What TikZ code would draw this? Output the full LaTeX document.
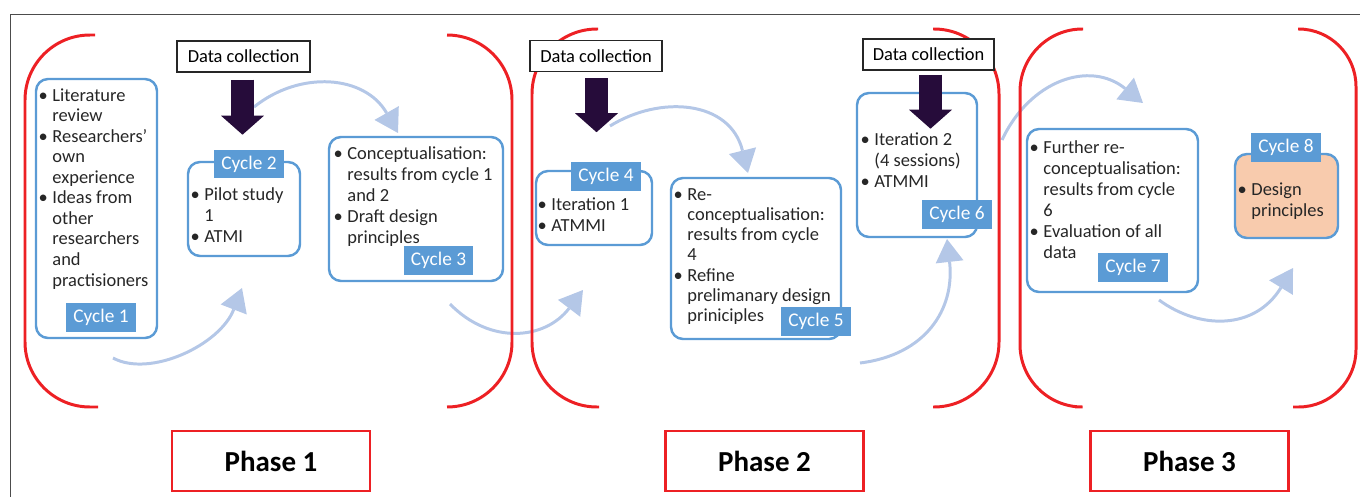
\documentclass[tikz,border=0pt]{standalone}
\usepackage{fontspec}
\setmainfont{Carlito}
\usetikzlibrary{arrows.meta,calc}
\definecolor{phasered}{HTML}{ED2024}
\definecolor{cycblue}{HTML}{5B9BD5}
\definecolor{flowblue}{HTML}{B4C7E7}
\definecolor{dcpurple}{HTML}{260C3A}
\definecolor{peach}{HTML}{F8CBAD}
\newcommand{\bl}{\makebox[0.6em][l]{\kern-0.15em\textbullet}}
\newcommand{\ind}{\hspace*{0.6em}}

\begin{document}
\begin{tikzpicture}[x=0.02cm,y=-0.02cm,
    bracket/.style={phasered,line width=1.7pt,rounded corners=1.3cm},
    cbox/.style={draw=cycblue,line width=1.4pt,rounded corners=0.24cm},
    cyc/.style={fill=cycblue,text=white,minimum width=1.4cm,minimum height=0.58cm,inner sep=0pt,font=\fontsize{11}{12}\selectfont},
    txt/.style={anchor=north west,inner sep=0pt,align=left,text=black!85,font=\fontsize{10.5}{12}\selectfont},
    dcbox/.style={draw=black!85,fill=white,line width=0.8pt,minimum height=0.62cm,inner sep=0pt,font=\fontsize{10.5}{12}\selectfont},
    dcarrow/.style={dcpurple,line width=0.46cm,-{Triangle[length=0.38cm,width=0.86cm,line width=0pt]}},
    flow/.style={flowblue,line width=1.7pt,-{Triangle[length=0.46cm,width=0.56cm,line width=0pt]}},
    phase/.style={draw=phasered,line width=1.4pt,minimum width=3.96cm,minimum height=1.2cm,font=\fontsize{16.5}{20}\selectfont\bfseries}]
  \useasboundingbox (0,0) rectangle (1360,497);
  \draw[black!70,line width=0.5pt] (1360,14) -- (10,14) -- (10,497);

  % curved flow arrows
  \draw[flow] (113,358) .. controls (150,378) and (220,345) .. (242,288);
  \draw[flow] (254,107) .. controls (300,70) and (365,75) .. (398,133);
  \draw[flow] (450,304) .. controls (490,345) and (545,340) .. (583,290);
  \draw[flow] (610,126) .. controls (660,95) and (730,100) .. (748,173);
  \draw[flow] (860,363) .. controls (925,355) and (955,310) .. (947,239);
  \draw[flow] (1002,140) .. controls (1030,80) and (1090,60) .. (1143,103);
  \draw[flow] (1159,300) .. controls (1200,330) and (1255,330) .. (1293,268);

  % phase brackets
  \draw[bracket] (95,35) -- (25,35) -- (25,407) -- (98,407);
  \draw[bracket] (447,35) -- (512,35) -- (512,407) -- (447,407);
  \draw[bracket] (598,29) -- (532,29) -- (532,407) -- (599,407);
  \draw[bracket] (933,29) -- (999,29) -- (999,407) -- (933,407);
  \draw[bracket,rounded corners=1.25cm] (1083,29) -- (1020,29) -- (1020,407) -- (1075,407);
  \draw[bracket,rounded corners=1.15cm] (1298,29) -- (1356,29) -- (1356,407) -- (1293,407);

  % cycle boxes
  \draw[cbox] (36,79) rectangle (157,338);
  \draw[cbox] (188,162) rectangle (300,256);
  \draw[cbox] (329,137) rectangle (503,281);
  \draw[cbox] (536,171) rectangle (652,245);
  \draw[cbox] (671,178) rectangle (841,339);
  \draw[cbox] (857,93) rectangle (977,237);
  \draw[cbox] (1027,129) rectangle (1198,292);
  \draw[cbox,fill=peach] (1235,154) rectangle (1338,238);

  \node[txt,font=\fontsize{10.5}{11.7}\selectfont] (t1) at (41,88) {\bl Literature\\\ind review\\\bl Researchers'\\\ind own\\\ind experience\\\bl Ideas from\\\ind other\\\ind researchers\\\ind and\\\ind practisioners};
  \node[txt] (t2) at (193,187) {\bl Pilot study\\\ind 1\\\bl ATMI};
  \node[txt] (t3) at (336,146) {\bl Conceptualisation:\\\ind results from cycle 1\\\ind and 2\\\bl Draft design\\\ind principles};
  \node[txt] (t4) at (540,197) {\bl Iteration 1\\\bl ATMMI};
  \node[txt,font=\fontsize{10.5}{11.5}\selectfont] (t5) at (676,188) {\bl Re-\\\ind conceptualisation:\\\ind results from cycle\\\ind 4\\\bl Refine\\\ind prelimanary design\\\ind priniciples};
  \node[txt] (t6) at (863,132) {\bl Iteration 2\\\ind (4 sessions)\\\bl ATMMI};
  \node[txt] (t7) at (1032,140) {\bl Further re-\\\ind conceptualisation:\\\ind results from cycle\\\ind 6\\\bl Evaluation of all\\\ind data};
  \node[txt] (t8) at (1240,182) {\bl Design\\\ind principles};

  \node[cyc] (c1) at (101,317.5) {Cycle 1};
  \node[cyc] (c2) at (249,164) {Cycle 2};
  \node[cyc] (c3) at (438.5,260.5) {Cycle 3};
  \node[cyc] (c4) at (606,176.5) {Cycle 4};
  \node[cyc] (c5) at (816,321.5) {Cycle 5};
  \node[cyc] (c6) at (957,214.5) {Cycle 6};
  \node[cyc] (c7) at (1133,267.5) {Cycle 7};
  \node[cyc] (c8) at (1286,147.5) {Cycle 8};

  % data collection
  \node[dcbox,minimum width=2.66cm] (dc1) at (243.5,56.5) {Data collection};
  \node[dcbox,minimum width=2.64cm] (dc2) at (596,56) {Data collection};
  \node[dcbox,minimum width=2.62cm] (dc3) at (928.5,54.5) {Data collection};
  \draw[dcarrow] ($(dc1.south)+(-1,7)$) -- ++(0,55);
  \draw[dcarrow] ($(dc2.south)+(0.5,6)$) -- ++(0,54);
  \draw[dcarrow] ($(dc3.south)+(2,4)$) -- ++(0,54);

  \node[phase] (p1) at (271,461) {Phase 1};
  \node[phase] (p2) at (764.5,461) {Phase 2};
  \node[phase] (p3) at (1189.5,461) {Phase 3};
\end{tikzpicture}
\end{document}
